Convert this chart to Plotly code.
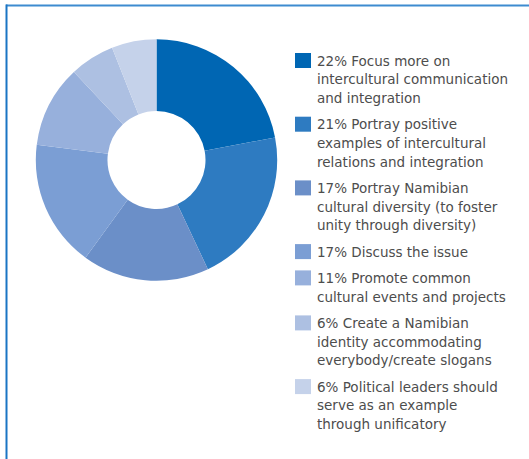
import plotly.graph_objects as go

# Survey answers: share of respondents (%) per suggestion
shares = [22, 21, 17, 17, 11, 6, 6]
label_lines = [
    ["22% Focus more on", "intercultural communication", "and integration"],
    ["21% Portray positive", "examples of intercultural", "relations and integration"],
    ["17% Portray Namibian", "cultural diversity (to foster", "unity through diversity)"],
    ["17% Discuss the issue"],
    ["11% Promote common", "cultural events and projects"],
    ["6% Create a Namibian", "identity accommodating", "everybody/create slogans"],
    ["6% Political leaders should", "serve as an example", "through unificatory"],
]
colors = ["#0066b3", "#2e7bc1", "#6b8fc8", "#7b9ed4", "#97b0dc", "#adc0e2", "#c5d2ea"]

W, H = 529, 459


def px_x(x):
    return x / W


def px_y(y):
    return 1 - y / H


fig = go.Figure()

# Donut chart, clockwise from 12 o'clock
cx, cy, r = 156.5, 160.0, 120.7
fig.add_trace(go.Pie(
    values=shares,
    labels=[" ".join(l) for l in label_lines],
    marker=dict(colors=colors, line=dict(width=0)),
    hole=0.406,
    sort=False,
    direction="clockwise",
    rotation=0,
    textinfo="none",
    hoverinfo="label+percent",
    showlegend=False,
    domain=dict(x=[px_x(cx - r), px_x(cx + r)], y=[px_y(cy + r), px_y(cy - r)]),
))

# Custom legend on the right: colour square + wrapped text
shapes = []
annotations = []
top = 53.0
sq_w, sq_h = 16, 15
line_pitch = 18.7
item_gap = 7.6
text_x = 315
for color, lines in zip(colors, label_lines):
    shapes.append(dict(
        type="rect", xref="paper", yref="paper",
        x0=px_x(295), x1=px_x(295 + sq_w),
        y0=px_y(top + sq_h), y1=px_y(top),
        fillcolor=color, line=dict(width=0),
    ))
    for i, line in enumerate(lines):
        yc = top + sq_h / 2 + i * line_pitch
        annotations.append(dict(
            text=line, xref="paper", yref="paper",
            x=px_x(text_x), y=px_y(yc),
            xanchor="left", yanchor="middle",
            showarrow=False,
            font=dict(family="DejaVu Sans", size=13.5, color="#4d4d4d"),
        ))
    top += len(lines) * line_pitch + item_gap

# Frame lines along the top and left edges
shapes.append(dict(type="line", xref="paper", yref="paper",
                   x0=px_x(6), x1=1, y0=px_y(5.5), y1=px_y(5.5),
                   line=dict(color="#3d8bd0", width=2)))
shapes.append(dict(type="line", xref="paper", yref="paper",
                   x0=px_x(6.5), x1=px_x(6.5), y0=px_y(4.5), y1=0,
                   line=dict(color="#1a75c4", width=2)))

fig.update_layout(
    width=W, height=H,
    margin=dict(l=0, r=0, t=0, b=0),
    paper_bgcolor="white",
    plot_bgcolor="white",
    shapes=shapes,
    annotations=annotations,
)

fig.write_html("out.html")
